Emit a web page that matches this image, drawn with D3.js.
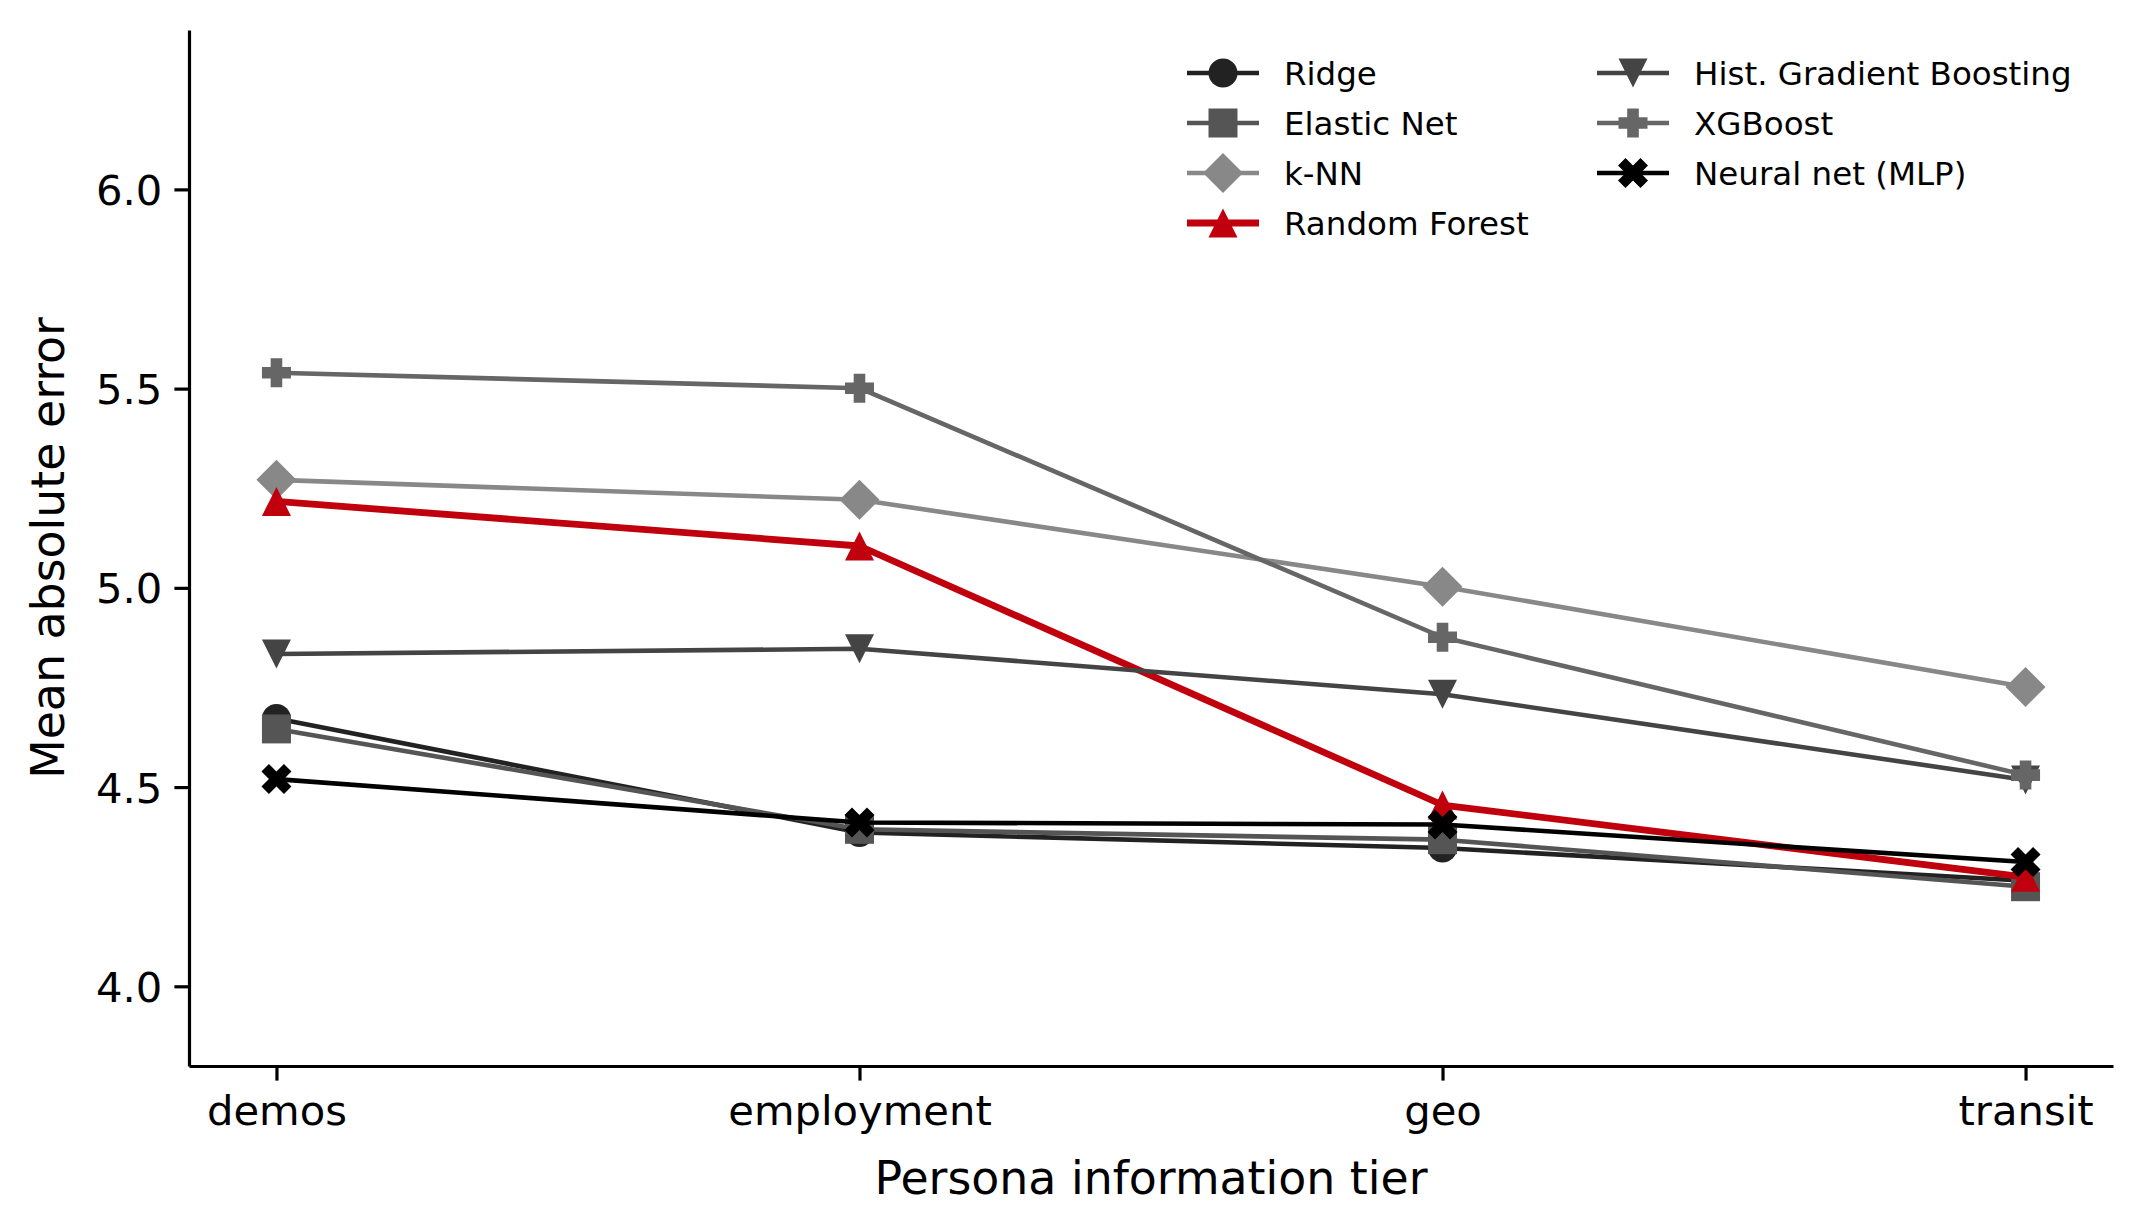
<!DOCTYPE html>
<html>
<head>
<meta charset="utf-8">
<script src="https://cdn.jsdelivr.net/npm/d3@7"></script>
<style>
  html, body { margin: 0; padding: 0; background: #fff; }
  svg { display: block; font-family: "DejaVu Sans", sans-serif; }
</style>
</head>
<body>
<svg id="chart" width="2131" height="1230"></svg>
<script>
// persona tiers on the x axis
const tiers = ['demos', 'employment', 'geo', 'transit'];

// mean absolute error per model, one value per tier
const ridge = [4.672, 4.386, 4.347, 4.265];
const elasticNet = [4.646, 4.394, 4.368, 4.250];
const knn = [5.271, 5.221, 5.003, 4.751];
const randomForest = [5.217, 5.105, 4.455, 4.274];
const histGB = [4.834, 4.847, 4.733, 4.518];
const xgboost = [5.540, 5.501, 4.876, 4.530];
const mlp = [4.520, 4.411, 4.406, 4.312];

const yTicks = [4.0, 4.5, 5.0, 5.5, 6.0];

const series = [
    { name: 'Ridge', values: ridge, color: '#222222', symbol: 'circle', width: 4.6 },
    { name: 'Elastic Net', values: elasticNet, color: '#555555', symbol: 'square', width: 4.6 },
    { name: 'k-NN', values: knn, color: '#888888', symbol: 'diamond', width: 4.6 },
    { name: 'Random Forest', values: randomForest, color: '#c0000c', symbol: 'triangleUp', width: 6.8 },
    { name: 'Hist. Gradient Boosting', values: histGB, color: '#444444', symbol: 'triangleDown', width: 4.6 },
    { name: 'XGBoost', values: xgboost, color: '#666666', symbol: 'plus', width: 4.6 },
    { name: 'Neural net (MLP)', values: mlp, color: '#000000', symbol: 'cross', width: 4.6 }
];

const margin = { left: 189, right: 18, top: 30, bottom: 164 };
const width = 2131, height = 1230;
const svg = d3.select('#chart');

const x = d3.scaleLinear()
    .domain([-0.15, tiers.length - 1 + 0.15])
    .range([margin.left, width - margin.right]);
const y = d3.scaleLinear()
    .domain([3.8, 6.4])
    .range([height - margin.bottom, margin.top]);

function circlePath(r) {
    const p = d3.path();
    p.arc(0, 0, r, 0, 2 * Math.PI);
    p.closePath();
    return p.toString();
}

// marker paths centred on 0,0 (sizes in px)
function markerPath(symbol) {
    const r = 14.5;
    switch (symbol) {
        case 'circle': return circlePath(r);
        case 'square': return `M${-r},${-r}H${r}V${r}H${-r}Z`;
        case 'diamond': { const d = 20; return `M0,${-d}L${d},0L0,${d}L${-d},0Z`; }
        case 'triangleUp': return `M0,${-r}L${r},${r}L${-r},${r}Z`;
        case 'triangleDown': return `M0,${r}L${r},${-r}L${-r},${-r}Z`;
        case 'plus': {
            const a = 14.5, b = 5.8;
            return `M${-b},${-a}H${b}V${-b}H${a}V${b}H${b}V${a}H${-b}V${b}H${-a}V${-b}H${-b}Z`;
        }
        case 'cross': {
            const s = 15, t = 7.5;
            const pts = [[0, -t], [s - t, -s], [s, -s + t], [t, 0], [s, s - t], [s - t, s],
                         [0, t], [-s + t, s], [-s, s - t], [-t, 0], [-s, -s + t], [-s + t, -s]];
            return 'M' + pts.map(p => p.join(',')).join('L') + 'Z';
        }
    }
    return '';
}

// axes
const xAxis = svg.append('g')
    .attr('transform', `translate(0,${height - margin.bottom})`)
    .call(d3.axisBottom(x).tickValues(d3.range(tiers.length)).tickFormat(i => tiers[i])
        .tickSize(14.6).tickSizeOuter(0).tickPadding(12));
const yAxis = svg.append('g')
    .attr('transform', `translate(${margin.left},0)`)
    .call(d3.axisLeft(y).tickValues(yTicks).tickFormat(d3.format('.1f'))
        .tickSize(14.6).tickSizeOuter(0).tickPadding(12));

[xAxis, yAxis].forEach(function (g) {
    g.select('.domain').attr('stroke', '#000').attr('stroke-width', 3.2);
    g.selectAll('.tick line').attr('stroke', '#000').attr('stroke-width', 3.2);
    g.selectAll('.tick text').attr('fill', '#000').style('font-size', '41.7px')
        .style('font-family', '"DejaVu Sans", sans-serif');
});
xAxis.selectAll('.tick text').attr('dy', '0.78em');
yAxis.selectAll('.tick text').attr('dy', '0.36em');

svg.append('text')
    .attr('x', (margin.left + width - margin.right) / 2)
    .attr('y', 1194)
    .attr('text-anchor', 'middle')
    .style('font-size', '45.8px')
    .text('Persona information tier');

svg.append('text')
    .attr('transform', `translate(64,${(margin.top + height - margin.bottom) / 2}) rotate(-90)`)
    .attr('text-anchor', 'middle')
    .style('font-size', '45.8px')
    .text('Mean absolute error');

// lines and markers
const line = d3.line().x((d, i) => x(i)).y(d => y(d));
const plot = svg.append('g');

series.forEach(function (s) {
    const g = plot.append('g').attr('class', 'series');
    g.append('path')
        .attr('d', line(s.values))
        .attr('fill', 'none')
        .attr('stroke', s.color)
        .attr('stroke-width', s.width)
        .attr('stroke-linejoin', 'round');
    g.selectAll('path.marker')
        .data(s.values)
        .enter()
        .append('path')
        .attr('class', 'marker')
        .attr('transform', (d, i) => `translate(${x(i)},${y(d)})`)
        .attr('d', markerPath(s.symbol))
        .attr('fill', s.color);
});

// legend, two columns
const legendCols = [1187, 1597];
const legendRows = [73, 123, 173, 223];
const legend = svg.append('g');
series.forEach(function (s, i) {
    const col = i < 4 ? 0 : 1;
    const row = i < 4 ? i : i - 4;
    const lx = legendCols[col], ly = legendRows[row];
    const item = legend.append('g').attr('transform', `translate(${lx},${ly})`);
    item.append('line')
        .attr('x1', 0).attr('x2', 72)
        .attr('stroke', s.color).attr('stroke-width', s.width);
    item.append('path')
        .attr('transform', 'translate(36,0)')
        .attr('d', markerPath(s.symbol))
        .attr('fill', s.color);
    item.append('text')
        .attr('x', 97)
        .attr('dy', '0.36em')
        .style('font-size', '32.5px')
        .text(s.name);
});
</script>
</body>
</html>
